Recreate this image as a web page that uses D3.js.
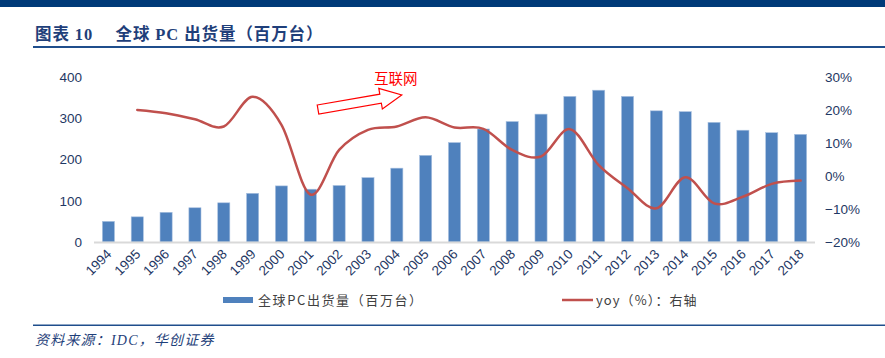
<!DOCTYPE html>
<html><head><meta charset="utf-8">
<script src="https://cdn.jsdelivr.net/npm/d3@7"></script>
<style>body{margin:0;background:#fff}svg{display:block}</style>
</head><body>
<svg id="c" width="885" height="358"></svg>
<script>
const years = ["1994","1995","1996","1997","1998","1999","2000","2001","2002","2003","2004","2005","2006","2007","2008","2009","2010","2011","2012","2013","2014","2015","2016","2017","2018"];
const shipments = [50,61,72,83,95,118,136,128,137,156,179,210,241,274,292,310,353,368,353,318,316,290,271,265,261];
const yoy = [null,20.0,19.0,17.2,15.0,24.0,15.5,-5.6,7.9,14.0,15.0,17.8,14.7,14.3,7.9,5.9,14.2,3.3,-3.7,-9.8,-0.4,-8.3,-6.3,-2.4,-1.4];
const leftTicks = [0,100,200,300,400];
const rightTicks = [-20,-10,0,10,20,30];

const svg = d3.select("#c");
const FONT = "'Liberation Sans', Arial, 'Noto Sans CJK SC', sans-serif";
const CJK = "'Noto Sans CJK SC', sans-serif";
const navy = "#1f3864";

// header / footer
svg.append("rect").attr("x",0).attr("y",0).attr("width",885).attr("height",7).attr("fill","#003a78");
svg.append("text").attr("x",35).attr("y",40).attr("font-family","'Liberation Serif', 'Noto Sans CJK SC', serif").attr("font-weight","bold")
  .attr("font-size",16.5).attr("letter-spacing",0.9).attr("fill","#1f3f7a").attr("xml:space","preserve")
  .text("图表 10　 全球 PC 出货量（百万台）");
svg.append("rect").attr("x",33).attr("y",46).attr("width",852).attr("height",2).attr("fill","#1f4e8c");
svg.append("rect").attr("x",33).attr("y",324.5).attr("width",852).attr("height",1.5).attr("fill","#1f4e8c");
svg.append("text").attr("x",35).attr("y",345).attr("font-family","'Liberation Serif', 'Noto Sans CJK SC', serif").attr("font-style","italic")
  .attr("font-size",14).attr("letter-spacing",1.2).attr("fill","#1f3f7a").text("资料来源：IDC，华创证券");

const x = d3.scaleBand().domain(years).range([94,815]).paddingInner(0.58).paddingOuter(0.29);
const yL = d3.scaleLinear().domain([0,400]).range([242,77]);
const yR = d3.scaleLinear().domain([-20,30]).range([242,77]);

// bars
svg.append("g").selectAll("rect").data(years).join("rect")
  .attr("x",d=>x(d)).attr("width",x.bandwidth())
  .attr("y",(d,i)=>yL(shipments[i])).attr("height",(d,i)=>yL(0)-yL(shipments[i]))
  .attr("fill","#4f81bd").attr("stroke","#a9c1e0").attr("stroke-width",0.6);

// baseline
svg.append("line").attr("x1",94).attr("x2",815).attr("y1",242.5).attr("y2",242.5)
  .attr("stroke","#d9d9d9").attr("stroke-width",2);

// left axis
const gl = svg.append("g").attr("transform","translate(82,0)")
  .call(d3.axisLeft(yL).tickValues(leftTicks).tickSize(0).tickPadding(0));
gl.select(".domain").remove();
gl.selectAll("text").attr("font-family",FONT).attr("font-size",13.5).attr("fill",navy);

// right axis
const gr = svg.append("g").attr("transform","translate(825,0)")
  .call(d3.axisRight(yR).tickValues(rightTicks).tickSize(0).tickPadding(0).tickFormat(d=>d+"%"));
gr.select(".domain").remove();
gr.selectAll("text").attr("font-family",FONT).attr("font-size",13.5).attr("fill",navy)
  .text(d=> (d<0? "\u2212"+Math.abs(d) : d) + "%");

// x axis labels
const gx = svg.append("g").attr("transform","translate(0,248)")
  .call(d3.axisBottom(x).tickSize(0).tickPadding(0));
gx.select(".domain").remove();
gx.selectAll("text").attr("font-family",FONT).attr("font-size",13.5).attr("fill",navy)
  .attr("text-anchor","end").attr("x",0).attr("y",0).attr("dy",0)
  .attr("transform","translate(4,7) rotate(-45)");

// yoy line
const line = d3.line().defined(d=>d!=null)
  .x((d,i)=>x(years[i])+x.bandwidth()/2).y(d=>yR(d)).curve(d3.curveCardinal.tension(0));
svg.append("path").datum(yoy).attr("d",line).attr("fill","none")
  .attr("stroke","#c0504d").attr("stroke-width",2.5).attr("stroke-linecap","round");

// annotation
svg.append("text").attr("x",374).attr("y",84).attr("font-family",CJK).attr("font-size",14.5)
  .attr("fill","#ff0000").text("互联网");
const L=85, bw=4.6, hw=10.5, hl=21.5;
svg.append("path")
  .attr("d",`M0,${-bw} L${L-hl},${-bw} L${L-hl},${-hw} L${L},0 L${L-hl},${hw} L${L-hl},${bw} L0,${bw} Z`)
  .attr("transform","translate(318,109.5) rotate(-9.8)")
  .attr("fill","#fff").attr("stroke","#ff0000").attr("stroke-width",1.2);

// legend
svg.append("rect").attr("x",223).attr("y",297).attr("width",30).attr("height",6).attr("fill","#4f81bd");
svg.append("text").attr("x",258).attr("y",305).attr("font-family",CJK).attr("font-size",13)
  .attr("letter-spacing",1.6).attr("fill","#404040").text("全球PC出货量（百万台）");
svg.append("line").attr("x1",562).attr("x2",593).attr("y1",300).attr("y2",300)
  .attr("stroke","#c0504d").attr("stroke-width",2.5);
svg.append("text").attr("x",596).attr("y",305).attr("font-family",CJK).attr("font-size",13)
  .attr("letter-spacing",1.1).attr("fill","#404040").text("yoy（%）：右轴");
</script>
</body></html>
